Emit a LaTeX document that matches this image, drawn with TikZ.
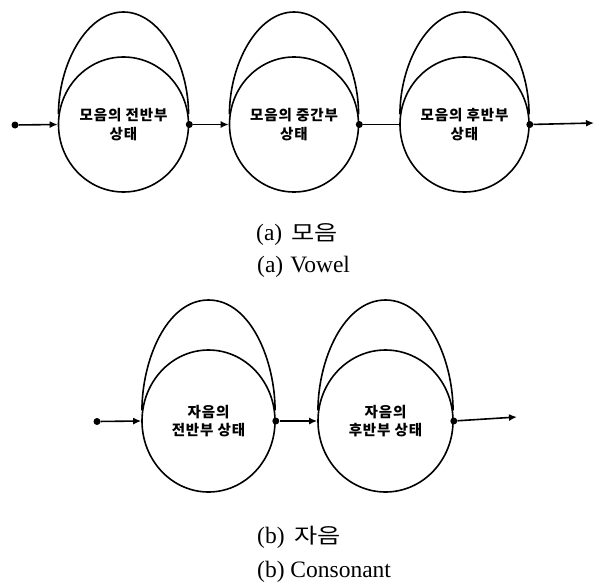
\documentclass[tikz,border=0pt]{standalone}
\usepackage{fontspec}
\setmainfont{Liberation Serif}
\newfontfamily\kr{Noto Sans CJK KR}
\newfontfamily\krwide[FakeStretch=1.2]{Noto Sans CJK KR}
\newfontfamily\krst[LetterSpace=6]{Noto Sans CJK KR}
\usetikzlibrary{shapes.geometric,arrows.meta,calc}
\begin{document}
\begin{tikzpicture}[x=1pt,y=-1pt,
  st/.style={draw, ellipse, line width=1.6pt, inner sep=0pt, align=center,
    font=\krst\bfseries\fontsize{14.5}{18.5}\selectfont},
  conn/.style={line width=1.6pt},
  arr/.style={conn, -{Latex[length=8pt,width=7pt]}},
  dotc/.style={circle, fill=black, inner sep=0pt, minimum size=7pt},
  captxt/.style={anchor=west, inner sep=0pt, font=\fontsize{23.5}{26}\selectfont}]
\useasboundingbox (0,0) rectangle (599,586);
% top row
\node[st, minimum width=130, minimum height=135] (a1) at (123.5,124.5) {모음의 전반부\\상태};
\node[st, minimum width=129, minimum height=135] (a2) at (294,124.5) {모음의 중간부\\상태};
\node[st, minimum width=129, minimum height=135] (a3) at (464.5,124.5) {모음의 후반부\\상태};
\node[dotc] (s0) at (15,125) {};
\node[dotc] (d1) at (a1.east) {};
\node[dotc] (d2) at (a2.east) {};
\node[dotc] (d3) at (a3.east) {};
\coordinate (e0) at (594,123);
\draw[arr] (s0) -- (a1.west);
\draw[arr] (d1) -- (a2.west);
\draw[conn] (d2) -- (a3.west);
\draw[arr] (d3) -- (e0);
% bottom row
\node[st, minimum width=133, minimum height=142] (b1) at (208.5,421) {자음의\\전반부 상태};
\node[st, minimum width=135, minimum height=142] (b2) at (385.5,421) {자음의\\후반부 상태};
\node[dotc] (t0) at (97,421.5) {};
\node[dotc] (f1) at (b1.east) {};
\node[dotc] (f2) at (b2.east) {};
\coordinate (g0) at (517,417);
\draw[arr] (t0) -- (b1.west);
\draw[arr] (f1) -- (b2.west);
\draw[arr] (f2) -- (g0);
% self loops
\foreach \n in {a1,a2,a3}{
  \draw[conn] (\n.171) .. controls +(0,-50) and +(-37,0) .. ($(\n.center)+(0,-112.5)$)
     .. controls +(37,0) and +(0,-50) .. (\n.9);
}
\foreach \n in {b1,b2}{
  \draw[conn] (\n.171) .. controls +(0,-50) and +(-42,0) .. ($(\n.center)+(0,-121)$)
     .. controls +(42,0) and +(0,-50) .. (\n.9);
}
% captions
\node[captxt] (ca1) at (256,235) {(a)\hspace{0.4em}{\krwide\fontsize{21}{24}\selectfont 모음}};
\node[captxt] (ca2) at (257,267) {(a)\hspace{0.3em}Vowel};
\node[captxt] (cb1) at (257,537) {(b)\hspace{0.4em}{\krwide\fontsize{21}{24}\selectfont 자음}};
\node[captxt] (cb2) at (257,572) {(b)\hspace{0.25em}Consonant};
\end{tikzpicture}
\end{document}
